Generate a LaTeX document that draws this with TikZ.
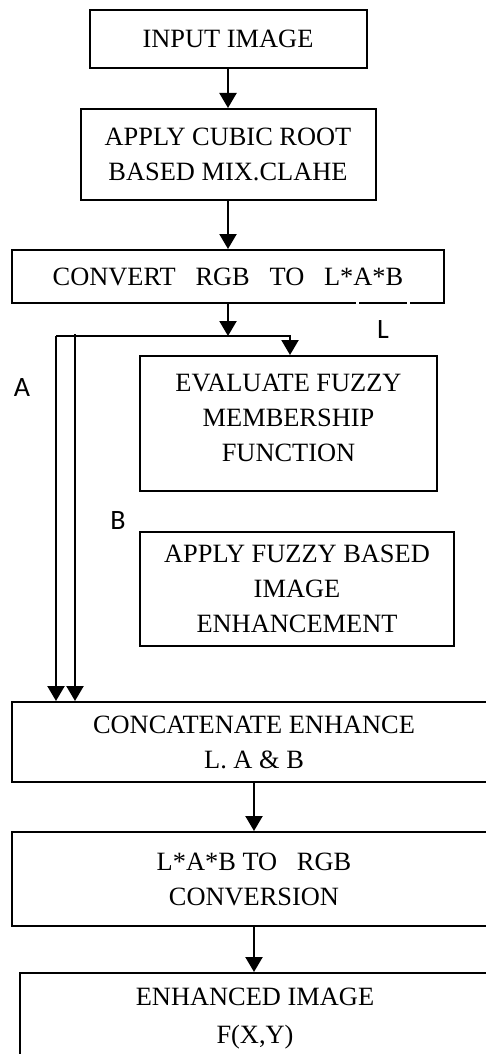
\documentclass[tikz,border=0pt]{standalone}
\usepackage{fontspec}
\setmainfont{Liberation Serif}
\newfontfamily\lblfont{Carlito}
\usetikzlibrary{arrows.meta}
\begin{document}
\begin{tikzpicture}[x=1pt,y=-1pt,
  box/.style={draw,line width=2pt,rectangle,inner sep=0pt,align=center,
    font=\fontsize{26.4}{35}\selectfont},
  arr/.style={line width=2.2pt,-{Triangle[width=17pt,length=15pt]}},
  lbl/.style={inner sep=0pt,font=\lblfont\fontsize{28}{32}\selectfont}]
\clip (0,0) rectangle (486,1054);
\fill[white] (0,0) rectangle (486,1054);
\node[box,minimum width=277pt,minimum height=58pt] (in) at (228,39) {INPUT IMAGE};
\node[box,minimum width=295pt,minimum height=91pt] (cubic) at (228,154.5) {APPLY CUBIC ROOT\\BASED MIX.CLAHE};
\node[box,minimum width=432pt,minimum height=53pt] (conv) at (228,276.5) {CONVERT\ \ \ RGB\ \ \ TO\ \ \ L*A*B};
\node[box,minimum width=297pt,minimum height=135pt] (eval) at (288.5,423.5) {EVALUATE FUZZY\\MEMBERSHIP\\FUNCTION\\[-23pt]};
\node[box,minimum width=314pt,minimum height=114pt] (fuzz) at (297,589) {APPLY FUZZY BASED\\IMAGE\\ENHANCEMENT};
\node[box,minimum width=484pt,minimum height=80pt] (cat) at (254,742) {CONCATENATE ENHANCE\\L. A \& B};
\node[box,minimum width=484pt,minimum height=94pt] (rgb) at (254,879) {L*A*B TO\ \ \ RGB\\CONVERSION};
\node[box,minimum width=470pt,minimum height=92pt] (out) at (255,1019) {ENHANCED IMAGE\\[3pt]F(X,Y)};
\node[lbl] (labL) at (383,330) {L};
\node[lbl] (labA) at (22,388) {A};
\node[lbl] (labB) at (118,521) {B};
\draw[white,line width=3pt] (356,303) -- (358.5,303) (407,303) -- (409.5,303);
\coordinate (j) at (228,336);
\coordinate (hl) at (56,336);
\coordinate (hr) at (290,336);
\coordinate (va) at (75,334);
\draw[arr] (in.south) -- (cubic.north);
\draw[arr] (cubic.south) -- (conv.north);
\draw[arr] (conv.south) -- (j);
\draw[arr] (hl) -- (hr) -- (hr |- eval.north);
\draw[arr] (hl) -- (hl |- cat.north);
\draw[arr] (va) -- (va |- cat.north);
\draw[arr] (cat.south) -- (cat.south |- rgb.north);
\draw[arr] (rgb.south) -- (rgb.south |- out.north);
\end{tikzpicture}
\end{document}
